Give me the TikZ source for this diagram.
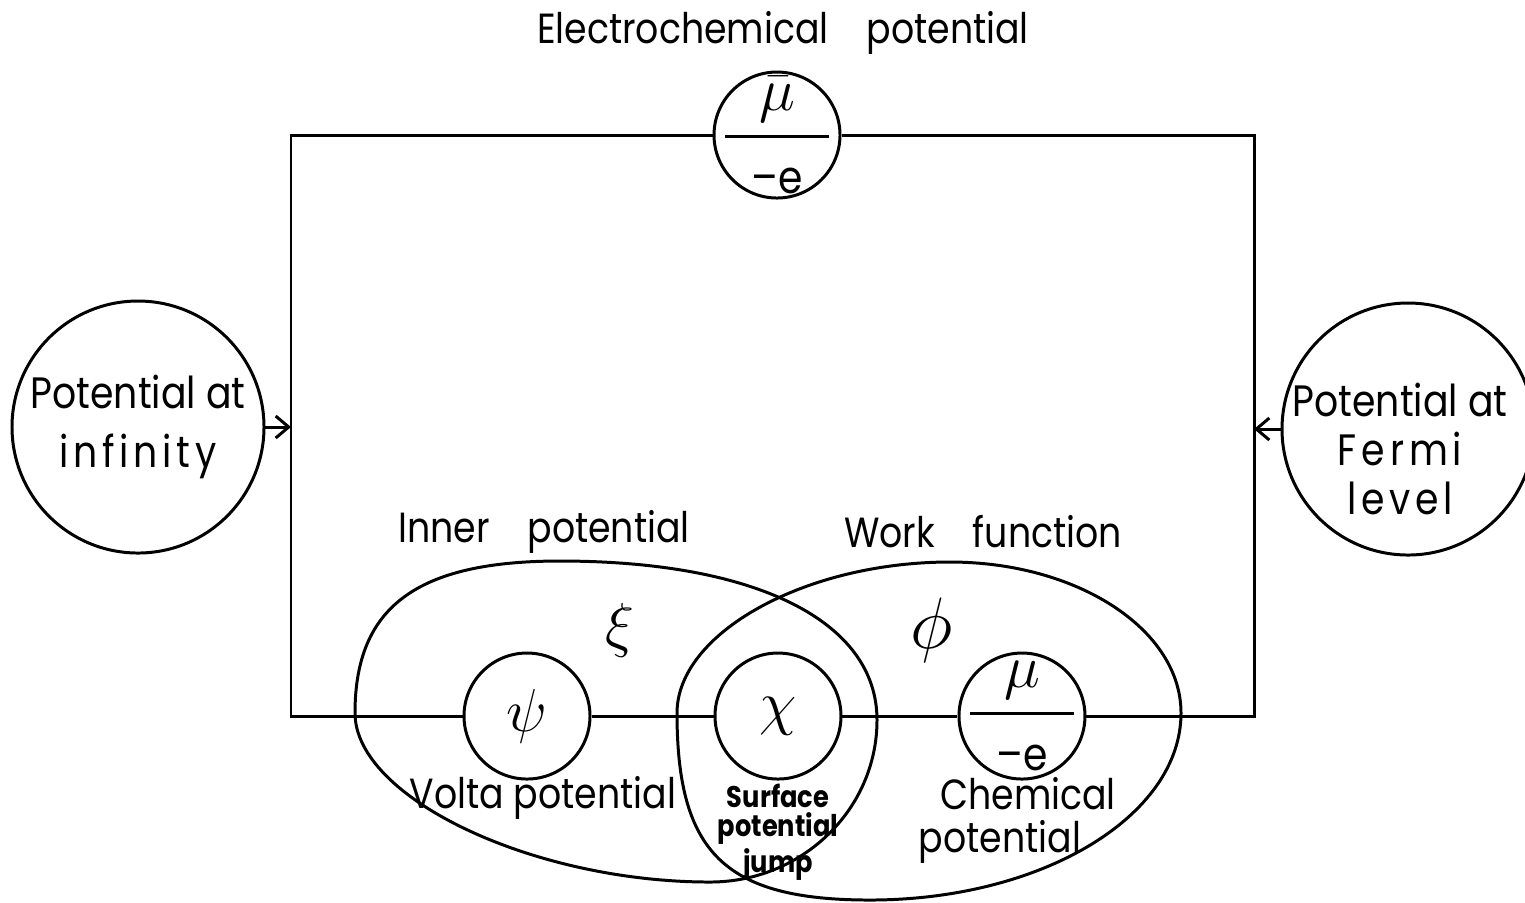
\documentclass[tikz,border=0pt]{standalone}
\usepackage{amsmath}
\usepackage{fontspec}
\setmainfont{Poppins}[FakeStretch=0.86]
\usepackage{tikz}
\usetikzlibrary{
  positioning,
  arrows.meta,
  calc
}

\newcommand{\spaced}[1]{{\addfontfeature{LetterSpace=11}#1}}
\newcommand{\mine}{\mbox{\fontsize{13}{13}\selectfont --e}}

\begin{document}
\begin{tikzpicture}[
  wire/.style={line width=0.85pt},
  smallc/.style={draw, circle, line width=0.85pt, minimum size=1.26cm, inner sep=0pt, font=\fontsize{17.28}{19}\selectfont},
  bigc/.style={draw, circle, line width=0.85pt, minimum size=2.52cm, inner sep=0pt, align=center, font=\fontsize{12.5}{17}\selectfont},
  fracl/.style={font=\fontsize{17.28}{19}\selectfont, inner sep=0pt},
  lbl/.style={font=\fontsize{12}{15}\selectfont, align=center},
  arr/.style={-{Straight Barb[length=1.3mm, width=2.2mm]}, line width=0.85pt}
]
  \useasboundingbox (0,0) rectangle (15.25,-9.02);

  % corners of the loop
  \coordinate (tl) at (2.91,-1.35);
  \coordinate (tr) at (12.54,-1.35);
  \coordinate (bl) at (2.91,-7.16);
  \coordinate (br) at (12.54,-7.16);

  % overlapping regions
  \draw[wire] (3.55,-7.13) .. controls (3.55,-6.07) and (4.165,-5.61) .. (5.60,-5.61)
    .. controls (7.565,-5.61) and (8.77,-6.214) .. (8.77,-7.20)
    .. controls (8.77,-8.094) and (8.022,-8.82) .. (7.10,-8.82)
    .. controls (5.325,-8.82) and (3.55,-7.975) .. cycle;
  \draw[wire] (6.77,-7.13) .. controls (6.77,-6.33) and (8.053,-5.62) .. (9.50,-5.62)
    .. controls (10.775,-5.62) and (11.81,-6.296) .. (11.81,-7.13)
    .. controls (11.81,-8.162) and (10.417,-9.00) .. (8.70,-9.00)
    .. controls (7.2525,-9.00) and (6.77,-8.5325) .. cycle;

  % potentials
  \node[smallc, label={[fracl]center:$\dfrac{\;\;\bar{\mu}\;\;}{\mine}$}] (ec) at (7.77,-1.35) {};
  \node[smallc] (psi) at (5.27,-7.16) {$\psi$};
  \node[smallc, right=1.22cm of psi] (chi) {$\chi$};
  \node[smallc, right=1.15cm of chi, label={[fracl]center:$\dfrac{\;\;\mu\;\;}{\mine}$}] (mu) {};
  \node[bigc] (inf) at (1.38,-4.27) {Potential at\\\spaced{infinity}};
  \node[bigc, label={[align=center, font=\fontsize{12.5}{14}\selectfont, xshift=-0.08cm, yshift=-0.2cm]center:Potential at\\\spaced{Fermi}\\\spaced{level}}] (fermi) at (14.08,-4.29) {};

  \draw[wire] (ec) -- (tl) -- (bl) -- (psi);
  \draw[wire] (psi) -- (chi);
  \draw[wire] (chi) -- (mu);
  \draw[wire] (ec) -- (tr) -- (br) -- (mu);
  \draw[arr] (inf.east) -- (inf.east -| bl);
  \draw[arr] (fermi.west) -- (fermi.west -| br);

  % labels
  \node[lbl] (ectitle) at (7.83,-0.33) {Electrochemical\hspace{0.9em}potential};
  \node[lbl] (inner) at (5.44,-5.32) {Inner\hspace{0.9em}potential};
  \node[lbl] (work) at (9.83,-5.32) {Work\hspace{0.9em}function};
  \node[font=\fontsize{17.28}{19}\selectfont] (xi) at (6.20,-6.30) {$\xi$};
  \node[font=\fontsize{20.74}{22}\selectfont] (phi) at (9.32,-6.30) {$\phi$};
  \node[lbl] (volta) at (5.43,-7.98) {Volta potential};
  \node[font=\fontsize{8.5}{8.3}\selectfont\bfseries, align=center] (spj) at (7.78,-8.32) {Surface\\potential\\jump};
  \node[lbl] (chem) at (10.28,-7.94) {Chemical};
  \node[lbl] (chempot) at (10.00,-8.42) {potential};
\end{tikzpicture}
\end{document}
